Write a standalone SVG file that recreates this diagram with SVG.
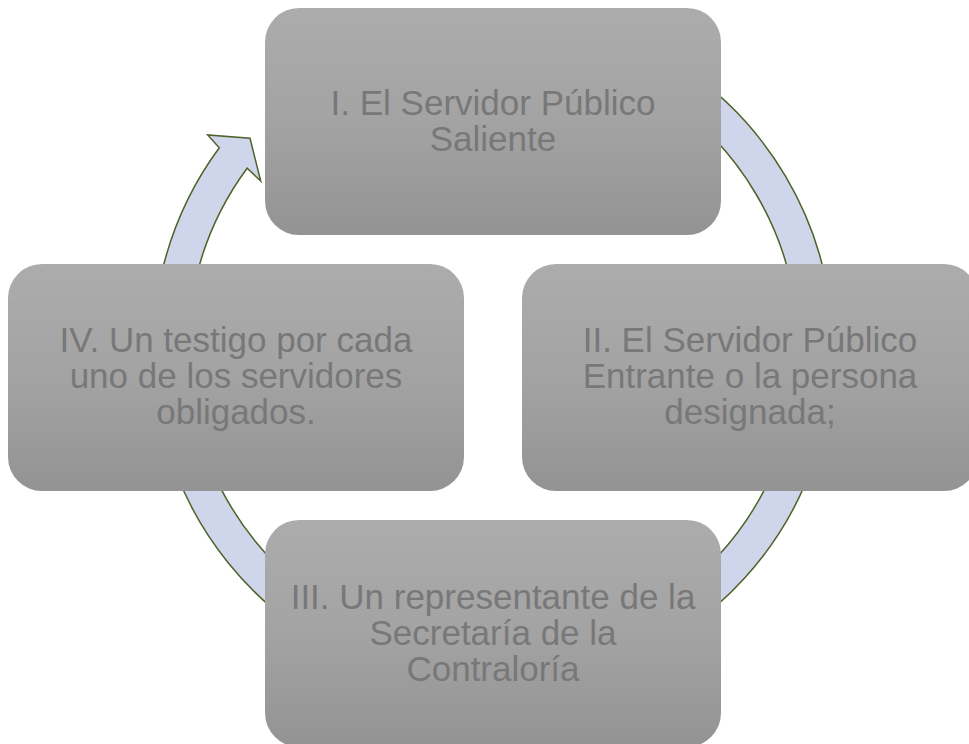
<svg xmlns="http://www.w3.org/2000/svg" width="969" height="744" viewBox="0 0 969 744">
  <defs>
    <linearGradient id="boxGrad" x1="0" y1="0" x2="0" y2="1">
      <stop offset="0" stop-color="#acacac"/>
      <stop offset="0.5" stop-color="#a3a3a3"/>
      <stop offset="1" stop-color="#939393"/>
    </linearGradient>
  </defs>
  <style>
    .box { fill: url(#boxGrad); }
    .label { font-family: "Liberation Sans", Arial, sans-serif; font-size: 35px; fill: #787878; text-anchor: middle; }
    .ring { fill: #cfd5ea; stroke: #4f6228; stroke-width: 1.5; stroke-linejoin: miter; }
  </style>
  <rect width="969" height="744" fill="#ffffff"/>
  <g id="connectors">
    <path class="ring" d="M 552.04 14.66 A 340 340 0 1 1 219.3 147.7 L 207.7 135 L 250 138.3 L 260.7 181 L 247.1 168.2 A 305.5 305.5 0 1 0 546.05 48.64 Z"/>
  </g>
  <g id="node-1">
    <rect class="box" x="265" y="8" width="456" height="227" rx="34" ry="34"/>
    <text class="label"><tspan x="493" y="115">I. El Servidor Público</tspan><tspan x="493" y="151">Saliente</tspan></text>
  </g>
  <g id="node-2">
    <rect class="box" x="522" y="264" width="456" height="227" rx="34" ry="34"/>
    <text class="label"><tspan x="750" y="352">II. El Servidor Público</tspan><tspan x="750" y="388">Entrante o la persona</tspan><tspan x="750" y="424">designada;</tspan></text>
  </g>
  <g id="node-3">
    <rect class="box" x="265" y="520" width="456" height="227" rx="34" ry="34"/>
    <text class="label"><tspan x="493" y="608.5">III. Un representante de la</tspan><tspan x="493" y="644.5">Secretaría de la</tspan><tspan x="493" y="680.5">Contraloría</tspan></text>
  </g>
  <g id="node-4">
    <rect class="box" x="8" y="264" width="456" height="227" rx="34" ry="34"/>
    <text class="label"><tspan x="236" y="352">IV. Un testigo por cada</tspan><tspan x="236" y="388">uno de los servidores</tspan><tspan x="236" y="424">obligados.</tspan></text>
  </g>
</svg>
